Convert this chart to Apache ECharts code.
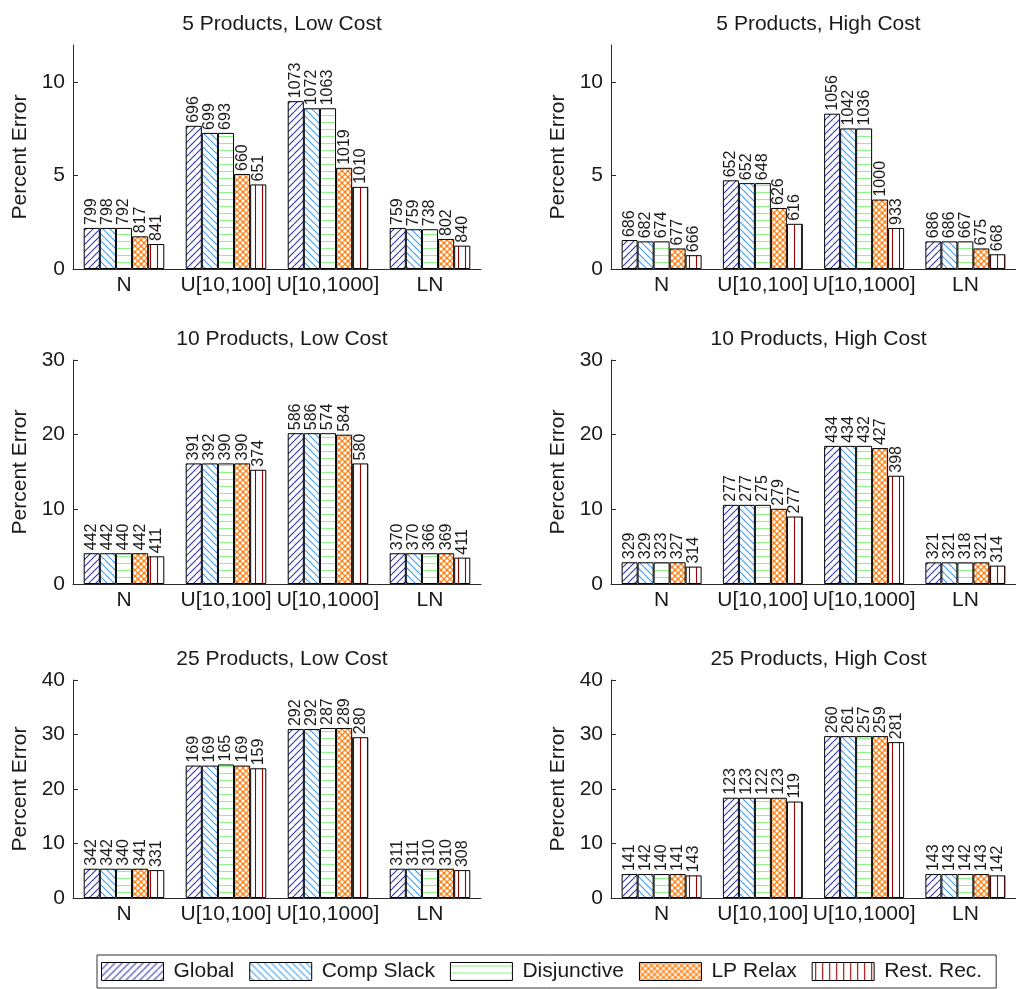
<!DOCTYPE html>
<html>
<head>
<meta charset="utf-8">
<script src="https://cdn.jsdelivr.net/npm/echarts@6/dist/echarts.min.js"></script>
<style>
html,body{margin:0;padding:0;background:#fff;}
#chart{width:1016px;height:989px;}
</style>
</head>
<body>
<div id="chart"></div>
<script>
// ---------- DATA ----------
const categories = ['N', 'U[10,100]', 'U[10,1000]', 'LN'];
const methods = ['Global', 'Comp Slack', 'Disjunctive', 'LP Relax', 'Rest. Rec.'];
const panelTitles = ['5 Products, Low Cost', '5 Products, High Cost',
                     '10 Products, Low Cost', '10 Products, High Cost',
                     '25 Products, Low Cost', '25 Products, High Cost'];
const yMax = [12, 12, 30, 30, 40, 40];
const yTicks = [[0, 5, 10], [0, 5, 10], [0, 10, 20, 30], [0, 10, 20, 30], [0, 10, 20, 30, 40], [0, 10, 20, 30, 40]];

// values[method][category]
const values5Low = [
  [2.20, 7.67, 8.99, 2.20],
  [2.20, 7.29, 8.61, 2.13],
  [2.20, 7.29, 8.61, 2.13],
  [1.75, 5.09, 5.42, 1.61],
  [1.34, 4.53, 4.40, 1.25]
];
const labels5Low = [
  [799, 696, 1073, 759],
  [798, 699, 1072, 759],
  [792, 693, 1063, 738],
  [817, 660, 1019, 802],
  [841, 651, 1010, 840]
];
const values5High = [
  [1.55, 4.75, 8.32, 1.48],
  [1.48, 4.60, 7.53, 1.48],
  [1.48, 4.60, 7.53, 1.48],
  [1.10, 3.27, 3.72, 1.10],
  [0.74, 2.42, 2.20, 0.79]
];
const labels5High = [
  [686, 652, 1056, 686],
  [682, 652, 1042, 686],
  [674, 648, 1036, 667],
  [677, 626, 1000, 675],
  [666, 616, 933, 668]
];
const values10Low = [
  [4.12, 16.15, 20.2, 4.12],
  [4.12, 16.15, 20.2, 4.12],
  [4.12, 16.15, 20.2, 4.12],
  [4.12, 16.15, 20.0, 4.12],
  [3.71, 15.30, 16.15, 3.53]
];
const labels10Low = [
  [442, 391, 586, 370],
  [442, 392, 586, 370],
  [440, 390, 574, 366],
  [442, 390, 584, 369],
  [411, 374, 580, 411]
];
const values10High = [
  [2.91, 10.6, 18.5, 2.90],
  [2.91, 10.6, 18.5, 2.90],
  [2.91, 10.6, 18.5, 2.90],
  [2.91, 10.07, 18.2, 2.90],
  [2.33, 9.04, 14.5, 2.46]
];
const labels10High = [
  [329, 277, 434, 321],
  [329, 277, 434, 321],
  [323, 275, 432, 318],
  [327, 279, 427, 321],
  [314, 277, 398, 314]
];
const values25Low = [
  [5.37, 24.3, 31.0, 5.37],
  [5.37, 24.3, 31.0, 5.37],
  [5.37, 24.5, 31.2, 5.37],
  [5.37, 24.3, 31.2, 5.37],
  [5.12, 23.8, 29.5, 5.12]
];
const labels25Low = [
  [342, 169, 292, 311],
  [342, 169, 292, 311],
  [340, 165, 287, 310],
  [341, 169, 289, 310],
  [331, 159, 280, 308]
];
const values25High = [
  [4.39, 18.4, 29.7, 4.39],
  [4.39, 18.4, 29.7, 4.39],
  [4.39, 18.4, 29.7, 4.39],
  [4.39, 18.4, 29.7, 4.39],
  [4.15, 17.7, 28.6, 4.15]
];
const labels25High = [
  [141, 123, 260, 143],
  [142, 123, 261, 143],
  [140, 122, 257, 142],
  [141, 123, 259, 143],
  [143, 119, 281, 142]
];
const panelValues = [values5Low, values5High, values10Low, values10High, values25Low, values25High];
const panelLabels = [labels5Low, labels5High, labels10Low, labels10High, labels25Low, labels25High];

// ---------- PATTERNS ----------
function tile(kind) {
  const c = document.createElement('canvas');
  let s = 7;
  if (kind === 'cross') s = 6;
  c.width = s; c.height = s;
  const g = c.getContext('2d');
  g.fillStyle = '#ffffff';
  g.fillRect(0, 0, s, s);
  g.lineWidth = 1.1;
  if (kind === 'fwd') {
    g.strokeStyle = '#2f2fb0';
    for (let k = -1; k <= 1; k++) { g.beginPath(); g.moveTo(k * s, s); g.lineTo(k * s + s, 0); g.stroke(); }
  } else if (kind === 'back') {
    g.strokeStyle = '#3a9cf5';
    for (let k = -1; k <= 1; k++) { g.beginPath(); g.moveTo(k * s, 0); g.lineTo(k * s + s, s); g.stroke(); }
  } else if (kind === 'horiz') {
    g.strokeStyle = '#8ff58a';
    g.beginPath(); g.moveTo(0, 3.5); g.lineTo(s, 3.5); g.stroke();
  } else if (kind === 'vert') {
    g.strokeStyle = '#9a0000';
    g.beginPath(); g.moveTo(3.5, 0); g.lineTo(3.5, s); g.stroke();
  } else if (kind === 'cross') {
    g.fillStyle = '#ff7f10';
    g.fillRect(0, 0, s, s);
    g.fillStyle = '#ffffff';
    const pts = [[0, 0], [s, 0], [0, s], [s, s], [s / 2, s / 2]];
    pts.forEach(p => { g.beginPath(); g.arc(p[0], p[1], 1.7, 0, Math.PI * 2); g.fill(); });
  }
  return { image: c, repeat: 'repeat' };
}
const patterns = [tile('fwd'), tile('back'), tile('horiz'), tile('cross'), tile('vert')];

// ---------- LAYOUT ----------
const gridLeft = [73, 611];
const gridWidth = [408, 405];
const rowTop = [45, 360, 680];
const rowHeight = [224, 224, 218];
const txt = '#1a1a1a';
const axisCol = '#2b2b2b';
const fontFam = '"Liberation Sans", Arial, sans-serif';
const bigFont = 21;

const grids = [], xAxes = [], yAxes = [], titles = [], series = [];
for (let p = 0; p < 6; p++) {
  const col = p % 2, row = Math.floor(p / 2);
  grids.push({ left: gridLeft[col], width: gridWidth[col], top: rowTop[row], height: rowHeight[row], containLabel: false });
  titles.push({
    text: panelTitles[p],
    left: gridLeft[col] + gridWidth[col] / 2,
    top: rowTop[row] - 36,
    textAlign: 'center',
    textStyle: { fontFamily: fontFam, fontSize: bigFont, fontWeight: 'normal', color: txt }
  });
  xAxes.push({
    type: 'category', gridIndex: p, data: categories,
    axisLine: { show: true, lineStyle: { color: axisCol, width: 1 } },
    axisTick: { show: false },
    axisLabel: { color: txt, fontFamily: fontFam, fontSize: bigFont, margin: 6, interval: 0 }
  });
  yAxes.push({
    type: 'value', gridIndex: p, min: 0, max: yMax[p],
    name: 'Percent Error', nameLocation: 'middle', nameGap: 42,
    nameTextStyle: { fontFamily: fontFam, fontSize: bigFont, color: txt },
    axisLine: { show: true, lineStyle: { color: axisCol, width: 1 } },
    axisTick: { show: true, inside: true, length: 5, lineStyle: { color: axisCol }, customValues: yTicks[p] },
    axisLabel: { color: txt, fontFamily: fontFam, fontSize: bigFont, margin: 8, customValues: yTicks[p] },
    splitLine: { show: false }
  });
  for (let m = 0; m < 5; m++) {
    const lab = panelLabels[p][m];
    series.push({
      type: 'bar', name: methods[m], xAxisIndex: p, yAxisIndex: p,
      data: panelValues[p][m],
      barGap: '0%', barCategoryGap: '21%',
      itemStyle: { color: patterns[m], borderColor: '#000', borderWidth: 1 },
      label: {
        show: true, position: 'top', rotate: 90, align: 'left', verticalAlign: 'middle',
        distance: 3, fontFamily: fontFam, fontSize: 16, color: txt,
        formatter: (prm) => String(lab[prm.dataIndex])
      },
      emphasis: { disabled: true },
      animation: false
    });
  }
}

const chart = echarts.init(document.getElementById('chart'), null, { renderer: 'canvas' });
chart.setOption({
  backgroundColor: '#ffffff',
  animation: false,
  title: titles,
  grid: grids,
  xAxis: xAxes,
  yAxis: yAxes,
  series: series,
  legend: {
    data: methods,
    left: 97, bottom: 1,
    orient: 'horizontal',
    itemWidth: 62, itemHeight: 18, itemGap: 15,
    padding: [6, 14, 6, 4],
    borderColor: '#333', borderWidth: 1,
    selectedMode: false,
    icon: 'rect',
    itemStyle: { borderColor: '#000', borderWidth: 1 },
    textStyle: { fontFamily: fontFam, fontSize: bigFont, color: txt, padding: [0, 0, 0, 5] }
  }
});
</script>
</body>
</html>
